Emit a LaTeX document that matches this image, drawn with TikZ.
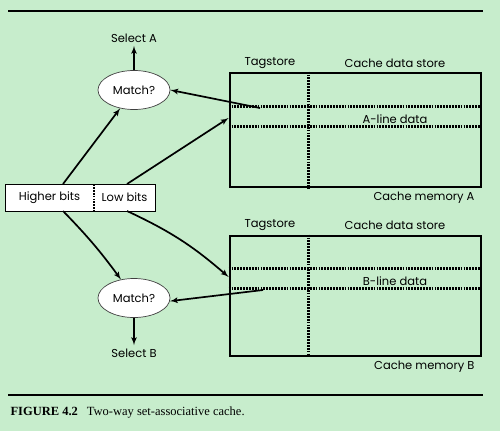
\documentclass[tikz,border=0pt]{standalone}
\usepackage{fontspec}
\setmainfont{Poppins}
\newfontfamily\captionfont{Liberation Serif}
\usetikzlibrary{arrows,positioning,shapes.geometric,calc}
\definecolor{bggreen}{RGB}{199,237,204}

\begin{document}
\begin{tikzpicture}[x=1pt, y=-1pt, >=latex',
    font=\fontsize{11.5}{13}\selectfont,
    matchnode/.style={draw=black!75, fill=white, ellipse, line width=0.7pt,
        minimum width=72pt, minimum height=39pt, inner sep=0pt},
    cachebox/.style={draw, line width=2.8pt, minimum width=251pt},
    rowline/.style={line width=2.6pt, dash pattern=on 1.8pt off 1.1pt},
    bitsbox/.style={fill=white, minimum height=27pt, inner sep=0pt, outer sep=0pt},
    flow/.style={->, line width=1.7pt}]

    \fill[bggreen] (0,0) rectangle (500,431);
    \useasboundingbox (0,0) rectangle (500,431);

    \draw[line width=1.1pt] (8,11) -- (483,11);
    \draw[line width=1.1pt] (8,395) -- (483,395);

    % cache memory A
    \node [cachebox,
        minimum height=114pt
    ]  (CacheA) at (355.5,130) {};
    \draw[rowline] ($(CacheA.north west)+(80,0)$) -- ($(CacheA.south west)+(80,0)$);
    \draw[rowline] ($(CacheA.north west)+(0,35)$) -- ($(CacheA.north east)+(0,35)$);
    \draw[rowline] ($(CacheA.north west)+(0,55)$) -- ($(CacheA.north east)+(0,55)$);
    \node (TagstoreA) at (270,63) {Tagstore};
    \node (DataStoreA) at (395,63) {Cache data store};
    \node (LineA) at (395,119) {A-line data};
    \node[anchor=east] (MemoryA) at (478,198) {Cache memory A};
    \coordinate (TagA) at (260,108);

    % cache memory B
    \node [cachebox,
        minimum height=120pt
    ]  (CacheB) at (355.5,296) {};
    \draw[rowline] ($(CacheB.north west)+(80,0)$) -- ($(CacheB.south west)+(80,0)$);
    \draw[rowline] ($(CacheB.north west)+(0,34)$) -- ($(CacheB.north east)+(0,34)$);
    \draw[rowline] ($(CacheB.north west)+(0,54)$) -- ($(CacheB.north east)+(0,54)$);
    \node (TagstoreB) at (270,225) {Tagstore};
    \node (DataStoreB) at (395,225) {Cache data store};
    \node (LineB) at (395,281) {B-line data};
    \node[anchor=east] (MemoryB) at (478,367) {Cache memory B};
    \coordinate (TagB) at (263,290);

    % address
    \node [bitsbox,
        minimum width=89pt
    ]  (HigherBits) at (49.5,197.5) {Higher bits};
    \node [bitsbox,
        minimum width=61pt,
        right=0pt of HigherBits
    ]  (LowBits) {Low bits};
    \draw[line width=0.7pt] (HigherBits.north west) rectangle (LowBits.south east);
    \draw[rowline, line width=2pt] (HigherBits.north east) -- (HigherBits.south east);

    % comparators
    \node [matchnode] (MatchA) at (134,90) {Match?};
    \node [matchnode] (MatchB) at (134,298) {Match?};
    \node (SelectA) at (134,38) {Select A};
    \node (SelectB) at (134,353) {Select B};

    \draw[flow] ([xshift=13.5pt]HigherBits.north) -- (MatchA);
    \draw[flow] ([xshift=2.5pt]LowBits.north) -- ([yshift=12pt]CacheA.west);
    \draw[flow] (TagA) -- (MatchA.east);
    \draw[flow] (MatchA) -- (SelectA);
    \draw[flow] ([xshift=13.5pt]HigherBits.south) to[bend left=4] (MatchB);
    \draw[flow] ([xshift=2.5pt]LowBits.south) to[bend left=8] ([yshift=19pt]CacheB.west);
    \draw[flow] (TagB) -- (MatchB.-5);
    \draw[flow] (MatchB) -- (SelectB);

    \node[anchor=west,
        font=\captionfont\fontsize{12.5}{14}\selectfont
    ]  (Caption) at (7,413) {\textbf{FIGURE 4.2}\hspace{9pt}Two-way set-associative cache.};

\end{tikzpicture}
\end{document}
